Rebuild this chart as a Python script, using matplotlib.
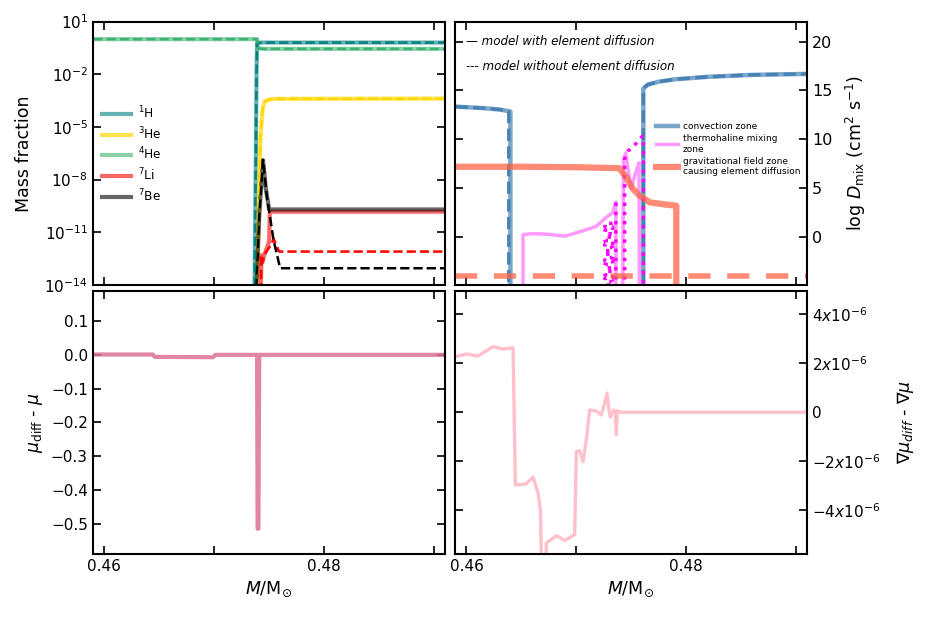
import numpy as np
import matplotlib
matplotlib.use("Agg")
import matplotlib.pyplot as plt
from matplotlib.ticker import FixedLocator, FuncFormatter, NullLocator

nan = np.nan

# ---- top left: mass fractions (solid = with diffusion, dashed = without) ----
h1_x = [0.459, 0.4736, 0.4737, 0.4738, 0.47385, 0.4739, 0.4745, 0.491]
h1_y = [1e-20, 1e-20, 1e-12, 1e-6, 1e-2, 0.62, 0.64, 0.64]
he4_x = [0.459, 0.4739, 0.4740, 0.4745, 0.491]
he4_y = [1.0, 1.0, 0.3, 0.28, 0.28]
he3_x = [0.459, 0.4738, 0.4739, 0.4742, 0.4744, 0.4746, 0.4750, 0.4756, 0.491]
he3_y = [1e-20, 1e-20, 1e-14, 2e-6, 1e-4, 2.8e-4, 3.7e-4, 4e-4, 4.1e-4]
be7_x = [0.459, 0.4738, 0.47385, 0.4741, 0.47444, 0.4747, 0.4750, 0.491]
be7_y = [1e-20, 1e-20, 1e-14, 1e-10, 1.3e-7, 3e-9, 2e-10, 2e-10]
be7n_x = [0.459, 0.4738, 0.47385, 0.4741, 0.47444, 0.4748, 0.4754, 0.4760, 0.491]
be7n_y = [1e-20, 1e-20, 1e-14, 1e-10, 1.3e-7, 1e-9, 3.6e-12, 9e-14, 9e-14]
li7_x = [0.459, 0.4742, 0.47425, 0.4743, 0.4744, 0.4745, 0.4750, 0.47505, 0.4751, 0.491]
li7_y = [1e-20, 1e-20, 1e-14, 5e-13, 2e-13, 4e-13, 3e-12, 1e-10, 1.5e-10, 1.5e-10]
li7n_x = [0.459, 0.4742, 0.47425, 0.4743, 0.4744, 0.4746, 0.4752, 0.4754, 0.4759, 0.491]
li7n_y = [1e-20, 1e-20, 1e-14, 5e-13, 2e-13, 6e-13, 2e-12, 4.3e-12, 8e-13, 8e-13]

# ---- top right: log D_mix ----
conv_x = [0.459, 0.4615, 0.4630, 0.4638, 0.4640, 0.4640, nan,
          0.4761, 0.4761, 0.4765, 0.4775, 0.4790, 0.4820, 0.4860, 0.491]
conv_y = [13.35, 13.2, 13.05, 12.9, 12.85, -10, nan,
          -10, 15.2, 15.6, 15.9, 16.15, 16.4, 16.6, 16.7]
convn_x = [0.459, 0.4615, 0.4630, 0.4637, 0.46385, 0.46385, nan,
           0.4761, 0.4761, 0.4765, 0.4775, 0.4790, 0.4820, 0.4860, 0.491]
convn_y = [13.35, 13.2, 13.05, 12.9, 12.85, -10, nan,
           -10, 15.2, 15.6, 15.9, 16.15, 16.4, 16.6, 16.7]
thm_x = [0.46515, 0.46515, 0.4660, 0.4673, 0.4690, 0.4709, 0.4718, 0.4726, 0.4733, 0.4736, 0.4736, nan,
         0.4742, 0.4743, 0.4745, 0.4747, 0.4750, 0.4754, 0.4757, 0.47575]
thm_y = [-10, 0.25, 0.35, 0.3, 0.1, 0.75, 1.1, 1.9, 2.5, 3.6, -10, nan,
         -10, 8.0, 8.6, 7.0, 5.0, 6.6, 7.6, -10]
thmn_x = [0.4733, 0.4726, 0.4726, 0.4733, 0.4733, 0.4726, 0.4726, 0.4733, 0.4733, 0.4726,
          0.4726, 0.4733, 0.4733, 0.4726, 0.4726, 0.4733, 0.4733, 0.4726, 0.4726, 0.4733,
          0.4733, 0.4726, 0.4726, 0.4733, 0.4733, 0.4726, 0.4726, 0.4733, 0.4733, 0.4726,
          0.4726, 0.4733, 0.4733, 0.4726, 0.4726, 0.4733, 0.4733, 0.4726, nan,
          0.4736, 0.4736, nan,
          0.4744, 0.4744, 0.4747, 0.4753, 0.4760, 0.4761, 0.4761]
thmn_y = [1.4, 1.4, 1.05, 1.05, 0.7, 0.7, 0.35, 0.35, 0.0, 0.0,
          -0.35, -0.35, -0.7, -0.7, -1.05, -1.05, -1.4, -1.4, -1.75, -1.75,
          -2.1, -2.1, -2.45, -2.45, -2.8, -2.8, -3.15, -3.15, -3.5, -3.5,
          -3.85, -3.85, -4.2, -4.2, -4.55, -4.55, -4.9, -4.9, nan,
          -10, 3.8, nan,
          -10, 8.0, 8.8, 9.4, 10.3, 10.3, -10]
grav_x = [0.459, 0.465, 0.470, 0.4739, 0.4745, 0.4751, 0.4758, 0.4767, 0.4780, 0.4791, 0.4791]
grav_y = [7.2, 7.2, 7.15, 7.05, 6.2, 5.0, 4.2, 3.55, 3.35, 3.2, -10]
gravn_x = [0.459, 0.491]
gravn_y = [-4.0, -4.0]

# ---- bottom left: mu_diff - mu ----
mu_x = [0.459, 0.4644, 0.4646, 0.4699, 0.4701, 0.4739, 0.47395, 0.47402, 0.4741, 0.491]
mu_y = [0.001, 0.001, -0.006, -0.007, 0.0, 0.0, -0.515, -0.515, 0.0, 0.0]

# ---- bottom right: grad mu_diff - grad mu (units of 1e-6) ----
gmu_x = [0.45894, 0.4600, 0.46106, 0.46242, 0.46333, 0.46424, 0.46445, 0.46545, 0.46606,
         0.46652, 0.46673, 0.46682, 0.46697, 0.46721, 0.46727, 0.46818, 0.46894, 0.46985,
         0.4700, 0.4703, 0.47061, 0.47091, 0.47121, 0.47182, 0.47227, 0.47258, 0.47279,
         0.47297, 0.47309, 0.47339, 0.47355, 0.47364, 0.47373, 0.47394, 0.491]
gmu_y = [2.27, 2.38, 2.30, 2.68, 2.58, 2.64, -2.97, -2.93, -2.65,
         -3.31, -3.99, -5.9, -7.0, -7.0, -5.35, -5.05, -5.24, -5.01,
         -1.61, -1.57, -2.02, -1.13, 0.09, 0.05, -0.11, 0.37, 0.78,
         0.09, -0.2, 0.09, 0.0, -0.93, 0.07, 0.0, 0.0]
gmu_y = [v * 1e-6 for v in gmu_y]

xticks = [0.46, 0.47, 0.48, 0.49]
xticklabels = ['0.46', '', '0.48', '']

fig, axes = plt.subplots(2, 2, figsize=(9.27, 6.17), dpi=100)
fig.subplots_adjust(left=0.1, right=0.8706, top=0.965, bottom=0.102, wspace=0.028, hspace=0.0216)
ax1, ax2 = axes[0]
ax3, ax4 = axes[1]

for ax in axes.flat:
    ax.set_xlim(0.45894, 0.491)
    ax.set_xticks(xticks)
    ax.set_xticklabels(xticklabels)
    ax.tick_params(direction='in', top=True, right=True, left=True, bottom=True,
                   length=6, width=1.2, labelsize=11)
    for s in ax.spines.values():
        s.set_linewidth(1.5)

# top left
ax1.set_yscale('log')
ax1.plot(h1_x, h1_y, color='teal', alpha=0.6, lw=3, label=r'$^1$H')
ax1.plot(he3_x, he3_y, color='gold', alpha=0.7, lw=3, label=r'$^3$He')
ax1.plot(he4_x, he4_y, color='mediumseagreen', alpha=0.6, lw=3, label=r'$^4$He')
ax1.plot(li7_x, li7_y, color='red', alpha=0.6, lw=3, label=r'$^7$Li')
ax1.plot(be7_x, be7_y, color='k', alpha=0.6, lw=3, label=r'$^7$Be')
ax1.plot(h1_x, h1_y, color='teal', lw=1.8, ls='--')
ax1.plot(he3_x, he3_y, color='gold', lw=1.8, ls='--')
ax1.plot(he4_x, he4_y, color='mediumseagreen', lw=1.8, ls='--')
ax1.plot(li7n_x, li7n_y, color='red', lw=1.8, ls='--')
ax1.plot(be7n_x, be7n_y, color='k', lw=1.8, ls='--')
ax1.set_ylim(1e-14, 10)
ax1.yaxis.set_major_locator(FixedLocator([1e1, 1e-2, 1e-5, 1e-8, 1e-11, 1e-14]))
ax1.yaxis.set_minor_locator(NullLocator())
ax1.set_ylabel('Mass fraction', fontsize=12.5, labelpad=8)
ax1.tick_params(labelbottom=False)
ax1.legend(loc='upper left', bbox_to_anchor=(-0.005, 0.725), frameon=False, fontsize=8.7,
           handlelength=2.4, handletextpad=0.6, labelspacing=0.33)

# top right
ax2.plot(conv_x, conv_y, color='steelblue', alpha=0.7, lw=3.2, label='convection zone')
ax2.plot(convn_x, convn_y, color='steelblue', lw=2.4, ls='--')
ax2.plot(thm_x, thm_y, color='magenta', alpha=0.4, lw=2.5, label='thermohaline mixing\nzone')
ax2.plot(thmn_x, thmn_y, color='magenta', lw=2.5, ls=':')
ax2.plot(grav_x, grav_y, color='tomato', alpha=0.75, lw=4.5,
         label='gravitational field zone\ncausing element diffusion')
ax2.plot(gravn_x, gravn_y, color='tomato', alpha=0.75, lw=4, ls='--', dashes=(4, 3))
ax2.set_ylim(-4.9, 22.05)
ax2.set_yticks([0, 5, 10, 15, 20])
ax2.tick_params(labelbottom=False, labelleft=False, labelright=True, labelsize=11.5)
ax2.yaxis.set_label_position('right')
ax2.set_ylabel(r'log $D_{\rm mix}$ (cm$^2$ s$^{-1}$)', fontsize=12.5)
ax2.yaxis.set_label_coords(1.105, 0.5)
ax2.legend(loc='upper left', bbox_to_anchor=(0.548, 0.649), frameon=False, fontsize=6.5,
           handlelength=2.4, handletextpad=0.55, labelspacing=0.35)
ax2.text(0.033, 0.923, '— model with element diffusion', transform=ax2.transAxes,
         fontsize=8.6, style='italic', va='center')
ax2.text(0.033, 0.829, '--- model without element diffusion', transform=ax2.transAxes,
         fontsize=8.6, style='italic', va='center')

# bottom left
ax3.plot(mu_x, mu_y, color='palevioletred', alpha=0.85, lw=3, solid_capstyle='round')
ax3.set_ylim(-0.59, 0.19)
ax3.set_yticks([0.1, 0.0, -0.1, -0.2, -0.3, -0.4, -0.5])
ax3.set_ylabel(r'$\mu_{\rm diff}$ - $\mu$', fontsize=12.5)
ax3.set_xlabel(r'$M$/M$_{\odot}$', fontsize=12.5)

# bottom right
def sci_fmt(v, pos):
    if abs(v) < 1e-12:
        return '0'
    return r'$%dx10^{-6}$' % round(v * 1e6)

ax4.plot(gmu_x, gmu_y, color='pink', lw=2.4)
ax4.set_ylim(-5.8e-6, 4.97e-6)
ax4.yaxis.set_major_locator(FixedLocator([-4e-6, -2e-6, 0, 2e-6, 4e-6]))
ax4.yaxis.set_major_formatter(FuncFormatter(sci_fmt))
ax4.tick_params(labelleft=False, labelright=True)
ax4.yaxis.set_label_position('right')
ax4.set_ylabel(r'$\nabla\mu_{diff}$ - $\nabla\mu$', fontsize=12.5)
ax4.yaxis.set_label_coords(1.25, 0.5)
ax4.set_xlabel(r'$M$/M$_{\odot}$', fontsize=12.5)

fig.savefig('out.png', dpi=100)
